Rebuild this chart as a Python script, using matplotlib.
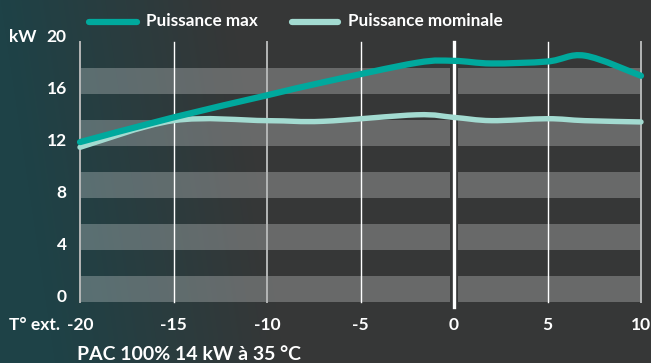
import numpy as np
import matplotlib
matplotlib.use("Agg")
import matplotlib.pyplot as plt
from matplotlib.path import Path
from matplotlib.patches import PathPatch, Rectangle
from matplotlib.lines import Line2D
from matplotlib.transforms import ScaledTranslation

plt.rcParams['font.family'] = ['Lato', 'DejaVu Sans']

temps = [-20, -15, -10, -7, -2, 0, 2, 5, 7, 10]
p_max = [12.3, 14.2, 15.9, 16.9, 18.4, 18.55, 18.35, 18.5, 18.95, 17.4]
p_nominal = [11.9, 13.95, 13.95, 13.9, 14.4, 14.2, 13.95, 14.1, 13.95, 13.85]
series_names = ["Puissance max", "Puissance mominale"]
series_colors = ["#00a99d", "#a3dbd1"]
x_ticks = [-20, -15, -10, -5, 0, 5, 10]
y_ticks = [0, 4, 8, 12, 16, 20]
subtitle = "PAC 100% 14 kW à 35 °C"


def smooth_path(xs, ys, k=1 / 6):
    # Catmull-Rom style bezier through the data points
    verts = [(xs[0], ys[0])]
    codes = [Path.MOVETO]
    n = len(xs)
    for i in range(n - 1):
        a = max(i - 1, 0)
        b = min(i + 2, n - 1)
        c1 = (xs[i] + (xs[i + 1] - xs[a]) * k, ys[i] + (ys[i + 1] - ys[a]) * k)
        c2 = (xs[i + 1] - (xs[b] - xs[i]) * k, ys[i + 1] - (ys[b] - ys[i]) * k)
        verts += [c1, c2, (xs[i + 1], ys[i + 1])]
        codes += [Path.CURVE4] * 3
    return Path(verts, codes)


W, H = 651, 363
fig = plt.figure(figsize=(W / 100, H / 100), dpi=100)

# background gradient, teal on the left fading into dark grey
bg = fig.add_axes([0, 0, 1, 1], zorder=-10)
bg.set_axis_off()
gx = np.linspace(0, 1, W)[None, :]
gy = np.linspace(0, 1, H)[:, None]
t = np.clip((gx * W - 0.15 * gy * H) / 230, 0, 1)
left = np.array([30, 66, 71]) / 255
right = np.array([54, 55, 55]) / 255
img = left[None, None, :] * (1 - t[..., None]) + right[None, None, :] * t[..., None]
bg.imshow(img, aspect='auto', extent=[0, 1, 0, 1])
bg.set_xlim(0, 1)
bg.set_ylim(0, 1)

ax = fig.add_axes([80 / W, (H - 302) / H, (641 - 80) / W, (302 - 42) / H])
ax.set_facecolor('none')
ax.set_xlim(-20, 10)
ax.set_ylim(0, 20)
for s in ax.spines.values():
    s.set_visible(False)

# horizontal bands, split around 0 °C
for y0 in range(0, 20, 4):
    ax.add_patch(Rectangle((-20, y0), 19.78, 2, facecolor='white', alpha=0.25, lw=0, zorder=1))
    ax.add_patch(Rectangle((0.22, y0), 9.78, 2, facecolor='white', alpha=0.25, lw=0, zorder=1))

# vertical grid lines
for xv in x_ticks:
    if xv == 0:
        ax.plot([0, 0], [-0.4, 20], color='white', lw=2.4, zorder=2, clip_on=False)
    elif xv in (-20, -10, 10):
        ax.plot([xv, xv], [0, 20], color='#b4b6b6', lw=1.4, zorder=2, clip_on=False)
    else:
        ax.plot([xv, xv], [0, 20], color='white', lw=1.0, zorder=2, clip_on=False)

for ys, col, lw in zip([p_nominal, p_max], series_colors[::-1], [3.9, 4.5]):
    ax.add_patch(PathPatch(smooth_path(temps, ys), fill=False, edgecolor=col,
                           lw=lw, capstyle='round', joinstyle='round', zorder=4,
                           clip_on=False))

ax.set_xticks(x_ticks)
ax.set_yticks(y_ticks)
ax.tick_params(length=0, colors='white', labelsize=12.5)
ax.tick_params(axis='x', pad=11)
ax.tick_params(axis='y', pad=9.5)
ax.set_xticklabels([str(v) for v in x_ticks], fontweight='bold')
ax.set_yticklabels([str(v) for v in y_ticks], fontweight='bold')
up = ScaledTranslation(0, 4.5 / 72, fig.dpi_scale_trans)
for lbl in ax.get_yticklabels():
    lbl.set_transform(lbl.get_transform() + up)

fig.text(9 / W, 1 - 37 / H, "kW", color='white', fontsize=12.5, fontweight='bold', va='center')
fig.text(9 / W, 1 - 325 / H, "T° ext.", color='white', fontsize=12.5, fontweight='bold', va='center')
fig.text(77 / W, 1 - 355 / H, subtitle, color='white', fontsize=14, fontweight='bold', va='center')

# legend at the top
leg_pos = [(89, 137, 146), (292, 338, 348)]
for (x0, x1, xt), name, col in zip(leg_pos, series_names, series_colors):
    fig.add_artist(Line2D([x0 / W, x1 / W], [1 - 22 / H, 1 - 22 / H], color=col, lw=4.5,
                          solid_capstyle='round', transform=fig.transFigure))
    fig.text(xt / W, 1 - 21 / H, name, color='white', fontsize=12.3, fontweight='bold', va='center')

fig.savefig("out.png", dpi=100)
